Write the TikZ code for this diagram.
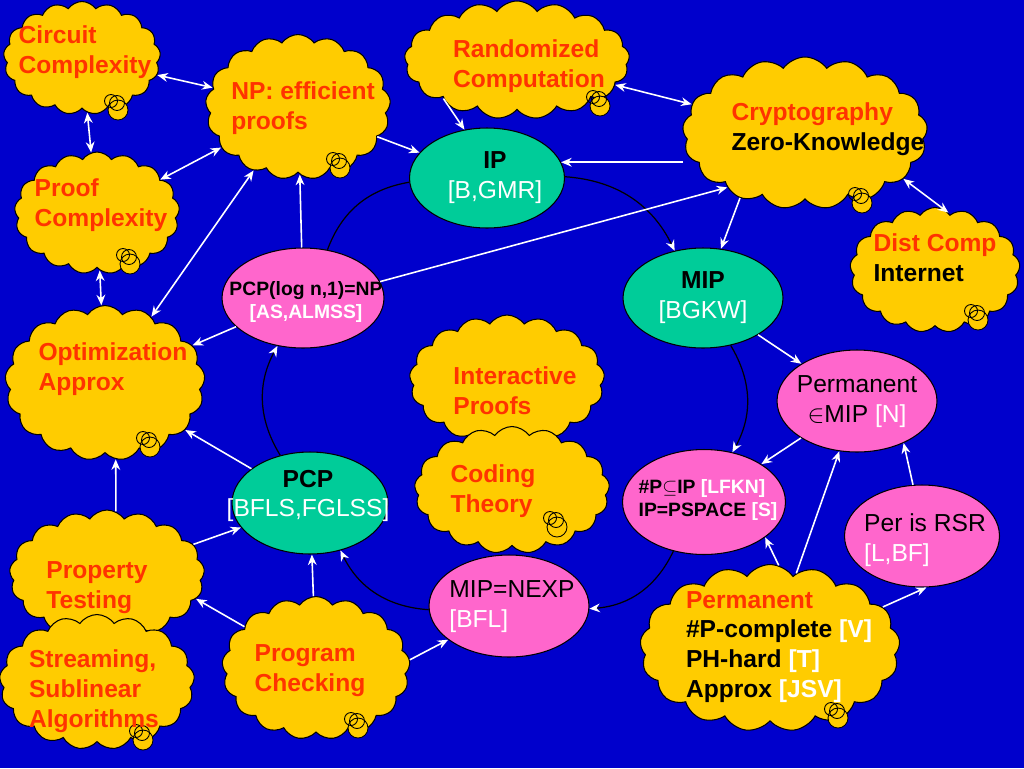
\documentclass[tikz,border=0pt]{standalone}
\usepackage{fontspec}
\setmainfont{Liberation Sans}
\usetikzlibrary{arrows.meta, shapes.symbols, shapes.geometric}

\definecolor{bgblue}{RGB}{0,0,204}
\definecolor{cloudyellow}{RGB}{255,204,0}
\definecolor{tealgreen}{RGB}{0,204,153}
\definecolor{pinkish}{RGB}{255,102,204}
\definecolor{redtext}{RGB}{255,51,0}

% small thought bubble under a cloud
\newcommand{\thoughtdot}[1]{%
  \begin{scope}[shift={#1}]
    \draw[fill=cloudyellow, line width=0.5pt] (0,0) circle[radius=0.2cm];
    \draw[line width=0.5pt] (-7,-9) circle[radius=0.13cm];
    \draw[line width=0.5pt] (-1,-7) circle[radius=0.15cm];
  \end{scope}}

\begin{document}
\begin{tikzpicture}[
  x=0.02cm, y=-0.02cm,
  cloudbox/.style={cloud, cloud puffs=17, cloud puff arc=110, cloud ignores aspect,
    draw=black, line width=0.6pt, fill=cloudyellow, inner sep=0pt},
  cloudtxt/.style={align=left, inner sep=0pt, text=redtext,
    font=\bfseries\fontsize{14}{17}\selectfont},
  ell/.style={ellipse, draw=black, line width=0.6pt, inner sep=0pt},
  tealell/.style={ell, fill=tealgreen},
  pinkell/.style={ell, fill=pinkish},
  elltxt/.style={align=center, inner sep=0pt, font=\fontsize{14}{17}\selectfont},
  smalltxt/.style={align=left, inner sep=0pt, font=\bfseries\fontsize{11}{13}\selectfont},
  wa/.style={draw=white, line width=0.9pt, -{Stealth[length=6pt,width=5pt]}},
  wab/.style={draw=white, line width=0.9pt, {Stealth[length=6pt,width=5pt]}-{Stealth[length=6pt,width=5pt]}},
  cyc/.style={draw=black, line width=0.7pt, -{Stealth[length=6pt,width=5pt,color=white]}},
  cycplain/.style={draw=black, line width=0.7pt}
]
  \useasboundingbox (0,0) rectangle (1024,768);
  \fill[bgblue] (0,0) rectangle (1024,768);

  % Clouds
  \node[cloudbox, minimum width=3.14cm, minimum height=2.26cm] (circ) at (82,58) {};
  \thoughtdot{(118,110)}
  \node[cloudtxt] (circT) at (85,52) {Circuit\\Complexity};

  \node[cloudbox, minimum width=3.7cm, minimum height=2.9cm] (np) at (298,107) {};
  \thoughtdot{(340,168)}
  \node[cloudtxt] (npT) at (303,108) {NP: efficient\\proofs};

  \node[cloudbox, minimum width=4.5cm, minimum height=2.36cm] (rand) at (517,60) {};
  \thoughtdot{(600,106)}
  \node[cloudtxt] (randT) at (529,66) {Randomized\\Computation};

  \node[cloudbox, minimum width=4.9cm, minimum height=3.04cm] (crypt) at (805,133) {};
  \thoughtdot{(862,203)}
  \node[cloudtxt] (cryptT) at (828,129) {Cryptography\\\textcolor{black}{Zero-Knowledge}};

  \node[cloudbox, minimum width=3.4cm, minimum height=2.5cm] (dist) at (935,270) {};
  \thoughtdot{(978,320)}
  \node[cloudtxt] (distT) at (935,258) {Dist Comp\\\textcolor{black}{Internet}};

  \node[cloudbox, minimum width=3.3cm, minimum height=2.44cm] (proof) at (97,213) {};
  \thoughtdot{(130,264)}
  \node[cloudtxt] (proofT) at (101,205) {Proof\\Complexity};

  \node[cloudbox, minimum width=4.0cm, minimum height=3.1cm] (opt) at (105,383) {};
  \thoughtdot{(150,447)}
  \node[cloudtxt] (optT) at (113,369) {Optimization\\Approx};

  \node[cloudbox, minimum width=3.9cm, minimum height=2.6cm] (inter) at (507,380) {};
  \node[cloudtxt] (interT) at (515,391) {Interactive\\Proofs};

  \node[cloudbox, minimum width=3.9cm, minimum height=2.54cm] (cod) at (512,490) {};
  \thoughtdot{(557,527)}
  \node[cloudtxt] (codT) at (493,491) {Coding\\Theory};

  \node[cloudbox, minimum width=3.9cm, minimum height=2.6cm] (prop) at (107,575) {};
  \node[cloudtxt] (propT) at (97,588) {Property\\Testing};

  \node[cloudbox, minimum width=3.9cm, minimum height=2.7cm] (stream) at (97,682) {};
  \thoughtdot{(143,740)}
  \node[cloudtxt] (streamT) at (94,691) {Streaming,\\Sublinear\\Algorithms};

  \node[cloudbox, minimum width=3.76cm, minimum height=2.86cm] (prog) at (316,668) {};
  \thoughtdot{(358,728)}
  \node[cloudtxt] (progT) at (310,671) {Program\\Checking};

  \node[cloudbox, minimum width=5.2cm, minimum height=3.34cm] (perm) at (770,648) {};
  \thoughtdot{(838,718)}
  \node[cloudtxt, text=black] (permT) at (779,647) {\textcolor{redtext}{Permanent}\\
    \#P-complete \textcolor{white}{[V]}\\PH-hard \textcolor{white}{[T]}\\Approx \textcolor{white}{[JSV]}};

  % Ellipses
  \node[tealell, minimum width=3.1cm, minimum height=2cm] (ip) at (487,178) {};
  \node[elltxt] (ipT) at (495,178) {\textbf{IP}\\\textcolor{white}{[B,GMR]}};

  \node[tealell, minimum width=3.2cm, minimum height=2cm] (mip) at (703,298) {};
  \node[elltxt] (mipT) at (703,298) {\textbf{MIP}\\\textcolor{white}{[BGKW]}};

  \node[tealell, minimum width=3.12cm, minimum height=2.04cm] (pcp) at (310,503) {};
  \node[elltxt] (pcpT) at (308,496) {\textbf{PCP}\\\textcolor{white}{[BFLS,FGLSS]}};

  \node[pinkell, minimum width=3.24cm, minimum height=2cm] (pcpl) at (303,298) {};
  \node[smalltxt, align=center] (pcplT) at (306,302) {PCP(log n,1)=NP\\\textcolor{white}{[AS,ALMSS]}};

  \node[pinkell, minimum width=3.2cm, minimum height=2.04cm] (permM) at (857,401) {};
  \node[elltxt] (permMT) at (857,402) {Permanent\\$\in$MIP \textcolor{white}{[N]}};

  \node[pinkell, minimum width=3.26cm, minimum height=2.1cm] (sharp) at (704,502) {};
  \node[smalltxt] (sharpT) at (708,500) {\#P$\subseteq$IP \textcolor{white}{[LFKN]}\\IP=PSPACE \textcolor{white}{[S]}};

  \node[pinkell, minimum width=3.1cm, minimum height=2.04cm] (rsr) at (922,536) {};
  \node[elltxt, align=left] (rsrT) at (925,540) {Per is RSR\\\textcolor{white}{[L,BF]}};

  \node[pinkell, minimum width=3.2cm, minimum height=2.04cm] (nexp) at (509,606) {};
  \node[elltxt, align=left] (nexpT) at (512,607) {MIP=NEXP\\\textcolor{white}{[BFL]}};

  % Cycle
  \draw[cyc] (ip) to[bend left=30] (mip);
  \draw[cyc] (mip) to[bend left=30] (sharp);
  \draw[cyc] (sharp) to[bend left=30] (nexp);
  \draw[cyc] (nexp) to[bend left=30] (pcp);
  \draw[cyc] (pcp) to[bend left=30] (pcpl);
  \draw[cycplain] (pcpl) to[bend left=30] (ip);

  % Edges
  \draw[wab] (circ) -- (np);
  \draw[wab] (circ) -- (proof);
  \draw[wab] (proof) -- (np);
  \draw[wab] (proof) -- (opt);
  \draw[wab] (opt) -- (np);
  \draw[wa] (pcpl) -- (np);
  \draw[wa] (pcpl) -- (opt);
  \draw[wa] (pcpl.12) -- (crypt.215);
  \draw[wa] (np) -- (ip);
  \draw[wa] (rand.south west) -- (ip.115);
  \draw[wab] (rand) -- (crypt);
  \draw[wa] (crypt.west |- ip.12) -- (ip.12);
  \draw[wa] (crypt.225) -- (mip.70);
  \draw[wab] (crypt.-25) -- (dist.77);
  \draw[wa] (mip) -- (permM);
  \draw[wa] (permM) -- (sharp);
  \draw[wa] (perm) -- (permM);
  \draw[wa] (rsr.100) -- (permM.-42);
  \draw[wa] (perm.20) -- (rsr.-85);
  \draw[wa] (perm.84) -- (sharp.-30);
  \draw[wa] (pcp) -- (opt);
  \draw[wa] (prop.82) -- (opt.-82);
  \draw[wa] (prop) -- (pcp);
  \draw[wa] (prog) -- (pcp);
  \draw[wa] (prog.150) -- (prop.-15);
  \draw[wa] (prog.5) -- (nexp.209);

\end{tikzpicture}
\end{document}
